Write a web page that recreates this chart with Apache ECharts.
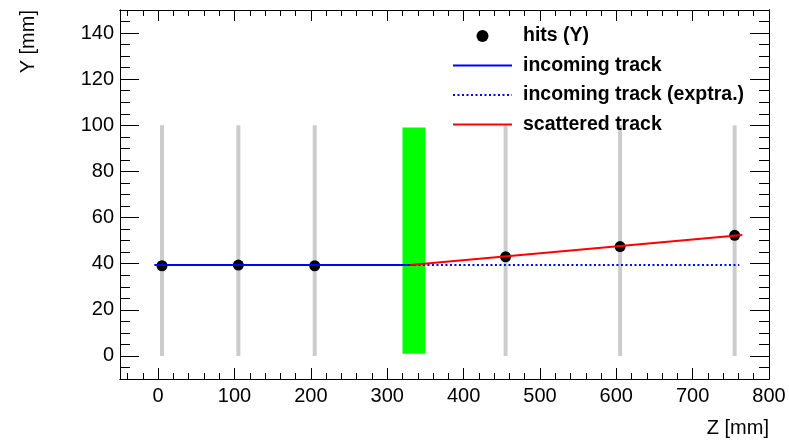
<!DOCTYPE html>
<html>
<head>
<meta charset="utf-8">
<script src="https://cdn.jsdelivr.net/npm/echarts@6/dist/echarts.min.js"></script>
<style>
  html, body { margin: 0; padding: 0; background: #fff; }
  #chart { width: 789px; height: 445px; }
</style>
</head>
<body>
<div id="chart"></div>
<script>
// axis ranges and ticks
const zRange = [-50, 800];
const yRange = [-10, 150];
const zMajorTicks = [0, 100, 200, 300, 400, 500, 600, 700, 800];
const yMajorTicks = [0, 20, 40, 60, 80, 100, 120, 140];

// detector planes (z position, y extent)
const planeZ = [5, 105, 205, 455, 605, 755];
const planeY = [0, 100];

// scatterer block
const blockZ = [320, 350];
const blockY = [1, 99];

// measured hits
const hitZ = [5, 105, 205, 455, 605, 755];
const hitY = [39.1, 39.4, 39.1, 43.0, 47.4, 52.3];

// fitted tracks
const incomingZ = [-5, 335];
const incomingY = [39.4, 39.4];
const extrapZ = [335, 761];
const extrapY = [39.4, 39.4];
const scatteredZ = [330, 765];
const scatteredY = [39.4, 52.4];

function minorTicks(range, step, majorStep) {
    const out = [];
    for (let v = Math.ceil(range[0] / step) * step; v <= range[1]; v += step) {
        if (v % majorStep !== 0) out.push(v);
    }
    return out;
}
const zMinorTicks = minorTicks(zRange, 20, 100);
const yMinorTicks = minorTicks(yRange, 5, 20);

const font = 'Liberation Sans';

function makeAxis(range, position, ticks, len, labels) {
    return {
        type: 'value',
        position: position,
        min: range[0],
        max: range[1],
        axisLine: {show: true, onZero: false, lineStyle: {color: '#000', width: 1}},
        axisTick: {show: true, inside: true, length: len, customValues: ticks,
            lineStyle: {color: '#000', width: 1}},
        axisLabel: {show: labels, customValues: ticks, color: '#000',
            fontFamily: font, fontSize: 20, margin: position === 'left' ? 6 : 7},
        splitLine: {show: false},
        minorTick: {show: false}
    };
}

const pts = (xs, ys) => xs.map((x, i) => [x, ys[i]]);

const chart = echarts.init(document.getElementById('chart'));

chart.setOption({
    backgroundColor: '#fff',
    animation: false,
    grid: {left: 120, right: 20, top: 10, bottom: 66},
    xAxis: [
        makeAxis(zRange, 'bottom', zMajorTicks, 11, true),
        makeAxis(zRange, 'bottom', zMinorTicks, 6, false),
        makeAxis(zRange, 'top', zMajorTicks, 11, false),
        makeAxis(zRange, 'top', zMinorTicks, 6, false)
    ],
    yAxis: [
        makeAxis(yRange, 'left', yMajorTicks, 19, true),
        makeAxis(yRange, 'left', yMinorTicks, 10, false),
        makeAxis(yRange, 'right', yMajorTicks, 19, false),
        makeAxis(yRange, 'right', yMinorTicks, 10, false)
    ],
    legend: {
        orient: 'vertical',
        left: 452,
        top: 26,
        padding: 0,
        itemWidth: 59,
        itemHeight: 12,
        itemGap: 9.5,
        textStyle: {fontFamily: font, fontSize: 19.5, fontWeight: 'bold', color: '#000',
            lineHeight: 20, padding: [0, 0, 0, 6]},
        data: [
            {name: 'hits (Y)'},
            {name: 'incoming track', itemStyle: {opacity: 0}},
            {name: 'incoming track (exptra.)', itemStyle: {opacity: 0}},
            {name: 'scattered track', itemStyle: {opacity: 0}}
        ]
    },
    graphic: [
        {type: 'text', right: 20, top: 418,
            style: {text: 'Z [mm]', font: '20px "Liberation Sans"', fill: '#000'}},
        {type: 'text', x: 28, y: 10, rotation: Math.PI / 2,
            style: {text: 'Y [mm]', font: '20px "Liberation Sans"', fill: '#000',
                textAlign: 'right', textVerticalAlign: 'middle'}}
    ],
    series: [
        {
            name: 'planes',
            type: 'custom',
            data: planeZ.map(z => [z, planeY[0], planeY[1]]),
            renderItem: (params, api) => {
                const p0 = api.coord([api.value(0), api.value(1)]);
                const p1 = api.coord([api.value(0), api.value(2)]);
                return {type: 'line', shape: {x1: p0[0], y1: p0[1], x2: p1[0], y2: p1[1]},
                    style: {stroke: '#cccccc', lineWidth: 4}};
            },
            z: 1
        },
        {
            name: 'block',
            type: 'custom',
            data: [[blockZ[0], blockZ[1], blockY[0], blockY[1]]],
            renderItem: (params, api) => {
                const a = api.coord([api.value(0), api.value(3)]);
                const b = api.coord([api.value(1), api.value(2)]);
                return {type: 'rect', shape: {x: a[0], y: a[1], width: b[0] - a[0], height: b[1] - a[1]},
                    style: {fill: '#00ff00'}};
            },
            z: 1
        },
        {
            name: 'hits (Y)',
            type: 'scatter',
            data: pts(hitZ, hitY),
            symbol: 'circle',
            symbolSize: 11,
            itemStyle: {color: '#000', opacity: 1},
            z: 3
        },
        {
            name: 'incoming track',
            type: 'line',
            data: pts(incomingZ, incomingY),
            symbol: 'none',
            color: '#0000ff',
            lineStyle: {color: '#0000ff', width: 2},
            z: 4
        },
        {
            name: 'incoming track (exptra.)',
            type: 'line',
            data: pts(extrapZ, extrapY),
            symbol: 'none',
            color: '#0000ff',
            lineStyle: {color: '#0000ff', width: 2, type: [2, 2.5]},
            z: 4
        },
        {
            name: 'scattered track',
            type: 'line',
            data: pts(scatteredZ, scatteredY),
            symbol: 'none',
            color: '#ff0000',
            lineStyle: {color: '#ff0000', width: 2},
            z: 4
        }
    ]
});
</script>
</body>
</html>
